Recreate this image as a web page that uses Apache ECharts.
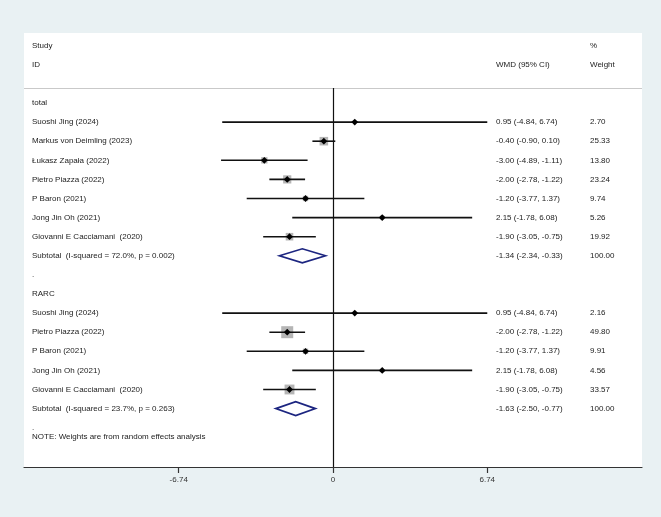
<!DOCTYPE html>
<html>
<head>
<meta charset="utf-8">
<script src="https://cdn.jsdelivr.net/npm/echarts@6/dist/echarts.min.js"></script>
<style>
html, body { margin: 0; padding: 0; background: #e9f1f3; }
#main { width: 661px; height: 517px; }
</style>
</head>
<body>
<div id="main"></div>
<script>
// subgroup: total
var totalStudies = ["Suoshi Jing (2024)", "Markus von Deimling (2023)", "Łukasz Zapała (2022)", "Pietro Piazza (2022)", "P Baron (2021)", "Jong Jin Oh (2021)", "Giovanni E Cacciamani  (2020)"];
var totalWmd = [0.95, -0.40, -3.00, -2.00, -1.20, 2.15, -1.90];
var totalLow = [-4.84, -0.90, -4.89, -2.78, -3.77, -1.78, -3.05];
var totalHigh = [6.74, 0.10, -1.11, -1.22, 1.37, 6.08, -0.75];
var totalWeight = [2.70, 25.33, 13.80, 23.24, 9.74, 5.26, 19.92];
var totalPooled = [-1.34, -2.34, -0.33];
var totalHet = "Subtotal  (I-squared = 72.0%, p = 0.002)";

// subgroup: RARC
var rarcStudies = ["Suoshi Jing (2024)", "Pietro Piazza (2022)", "P Baron (2021)", "Jong Jin Oh (2021)", "Giovanni E Cacciamani  (2020)"];
var rarcWmd = [0.95, -2.00, -1.20, 2.15, -1.90];
var rarcLow = [-4.84, -2.78, -3.77, -1.78, -3.05];
var rarcHigh = [6.74, -1.22, 1.37, 6.08, -0.75];
var rarcWeight = [2.16, 49.80, 9.91, 4.56, 33.57];
var rarcPooled = [-1.63, -2.50, -0.77];
var rarcHet = "Subtotal  (I-squared = 23.7%, p = 0.263)";

var tickValues = [-6.74, 0, 6.74];

// y positions are row numbers (0 = first group label)
var yMin = -3.665, yMax = 19.058, sepY = -0.785;
var font = '8px "Liberation Sans", Arial, sans-serif';
var textColor = '#222';

var rows = [];
rows.push({ y: -3, kind: 'head', label: 'Study', weight: '%' });
rows.push({ y: -2, kind: 'head', label: 'ID', ci: 'WMD (95% CI)', weight: 'Weight' });

var addGroup = function (name, studies, wmd, low, high, weight, pooled, het) {
    rows.push({ y: rows.length - 2, kind: 'text', label: name });
    for (var i = 0; i < studies.length; i++) {
        rows.push({ y: rows.length - 2, kind: 'study', label: studies[i], est: wmd[i], lo: low[i], hi: high[i], w: weight[i] });
    }
    rows.push({ y: rows.length - 2, kind: 'pooled', label: het, est: pooled[0], lo: pooled[1], hi: pooled[2], w: 100 });
    rows.push({ y: rows.length - 2, kind: 'text', label: '.' });
};
addGroup('total', totalStudies, totalWmd, totalLow, totalHigh, totalWeight, totalPooled, totalHet);
addGroup('RARC', rarcStudies, rarcWmd, rarcLow, rarcHigh, rarcWeight, rarcPooled, rarcHet);
rows.push({ y: 17.5, kind: 'text', label: 'NOTE: Weights are from random effects analysis' });

var ciText = function (r) {
    return r.est.toFixed(2) + ' (' + r.lo.toFixed(2) + ', ' + r.hi.toFixed(2) + ')';
};

var txt = function (x, y, s) {
    return { type: 'text', style: { x: x, y: y, text: s, font: font, fill: textColor, verticalAlign: 'middle' } };
};

var renderRow = function (params, api) {
    var r = rows[params.dataIndex];
    var y = api.coord([0, r.y])[1];
    var kids = [];
    if (r.label) kids.push(txt(32, y, r.label));
    if (r.kind === 'head') {
        if (r.ci) kids.push(txt(496, y, r.ci));
        if (r.weight) kids.push(txt(590, y, r.weight));
    }
    if (r.kind === 'study') {
        var pLo = api.coord([r.lo, r.y]);
        var pHi = api.coord([r.hi, r.y]);
        var pE = api.coord([r.est, r.y]);
        var side = 1.7 * Math.sqrt(r.w);
        kids.push({ type: 'rect', shape: { x: pE[0] - side / 2, y: y - side / 2, width: side, height: side }, style: { fill: '#b5b5b5' } });
        kids.push({ type: 'line', shape: { x1: pLo[0], y1: y, x2: pHi[0], y2: y }, style: { stroke: '#111', lineWidth: 1.6 } });
        kids.push({ type: 'polygon', shape: { points: [[pE[0] - 3.4, y], [pE[0], y - 3.4], [pE[0] + 3.4, y], [pE[0], y + 3.4]] }, style: { fill: '#000' } });
        kids.push(txt(496, y, ciText(r)));
        kids.push(txt(590, y, r.w.toFixed(2)));
    }
    if (r.kind === 'pooled') {
        var a = api.coord([r.lo, r.y]);
        var b = api.coord([r.hi, r.y]);
        var c = api.coord([r.est, r.y]);
        kids.push({ type: 'polygon', shape: { points: [[a[0], y], [c[0], y - 7], [b[0], y], [c[0], y + 7]] }, style: { fill: '#fff', stroke: '#1c2580', lineWidth: 1.7 } });
        kids.push(txt(496, y, ciText(r)));
        kids.push(txt(590, y, r.w.toFixed(2)));
    }
    return { type: 'group', children: kids };
};

var myChart = echarts.init(document.getElementById('main'));
var option = {
    backgroundColor: '#e9f1f3',
    animation: false,
    grid: {
        left: 24, right: 19, top: 33, bottom: 50,
        show: true, backgroundColor: '#fff', borderWidth: 0
    },
    xAxis: {
        type: 'value',
        min: -13.5,
        max: 13.5,
        splitLine: { show: false },
        axisLine: { show: true, onZero: false, lineStyle: { color: '#333', width: 1.2 } },
        axisTick: { show: true, customValues: tickValues, length: 6, lineStyle: { color: '#333', width: 1.2 } },
        axisLabel: {
            customValues: tickValues,
            margin: 9,
            color: '#333',
            fontSize: 8,
            fontFamily: 'Liberation Sans',
            formatter: function (v) { return v === 0 ? '0' : v.toFixed(2); }
        }
    },
    yAxis: {
        type: 'value',
        inverse: true,
        min: yMin,
        max: yMax,
        show: false
    },
    series: [
        {
            type: 'custom',
            renderItem: renderRow,
            clip: false,
            data: rows.map(function (r) { return [r.est || 0, r.y]; }),
            encode: { x: 0, y: 1 },
            markLine: {
                silent: true,
                symbol: 'none',
                label: { show: false },
                data: [
                    [{ coord: [-13.5, sepY], lineStyle: { color: '#c9c9c9', width: 1, type: 'solid' } }, { coord: [13.5, sepY] }],
                    [{ coord: [0, sepY], lineStyle: { color: '#111', width: 1.2, type: 'solid' } }, { coord: [0, yMax] }]
                ]
            }
        }
    ]
};
myChart.setOption(option);
</script>
</body>
</html>
